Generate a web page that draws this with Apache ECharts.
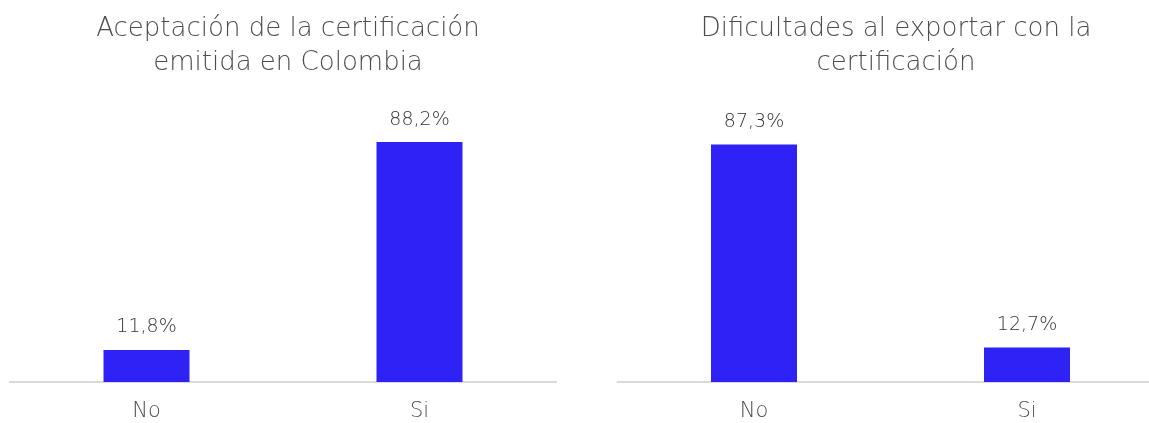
<!DOCTYPE html>
<html><head><meta charset="utf-8">
<script src="https://cdn.jsdelivr.net/npm/echarts@6/dist/echarts.min.js"></script>
<style>html,body{margin:0;padding:0;background:#fff;overflow:hidden}#c{width:1170px;height:423px}</style>
</head><body><div id="c"></div>
<script>
const categories = ['No', 'Si'];
const titleLeft = 'Aceptación de la certificación\nemitida en Colombia';
const titleRight = 'Dificultades al exportar con la\ncertificación';
const valuesLeft = [11.8, 88.2];
const valuesRight = [87.3, 12.7];

const FONT = 'DejaVu Sans';
const BAR = '#2F22F5';
function fmt(v){ return v.toFixed(1).replace('.', ',') + '%'; }

const chart = echarts.init(document.getElementById('c'));
function xAx(i){ return {
  type:'category', data:categories, gridIndex:i,
  axisLine:{lineStyle:{color:'#d9d9d9', width:2}},
  axisTick:{show:false},
  axisLabel:{color:'#4d4d4d', fontSize:21, fontFamily:FONT, fontWeight:200, margin:19}
};}
function yAx(i){ return {type:'value', gridIndex:i, min:0, max:100, show:false, splitLine:{show:false}}; }
function ser(i, data){ return {
  type:'bar', xAxisIndex:i, yAxisIndex:i, data:data, barWidth:86,
  itemStyle:{color:BAR},
  label:{show:true, position:'top', distance:13, color:'#333333', fontSize:19, fontFamily:FONT, fontWeight:200,
    formatter:p=>fmt(p.value)}
};}
chart.setOption({
  animation:false,
  title:[
    {text:titleLeft, left:283, top:7, textAlign:'center',
     textStyle:{color:'#4d4d4d', fontSize:26, fontWeight:200, fontFamily:FONT, lineHeight:34}},
    {text:titleRight, left:891, top:7, textAlign:'center',
     textStyle:{color:'#4d4d4d', fontSize:26, fontWeight:200, fontFamily:FONT, lineHeight:34}}
  ],
  grid:[
    {left:10, width:546, top:110, bottom:41},
    {left:617.5, width:546, top:110, bottom:41}
  ],
  xAxis:[xAx(0), xAx(1)],
  yAxis:[yAx(0), yAx(1)],
  series:[ser(0, valuesLeft), ser(1, valuesRight)]
});
</script></body></html>
